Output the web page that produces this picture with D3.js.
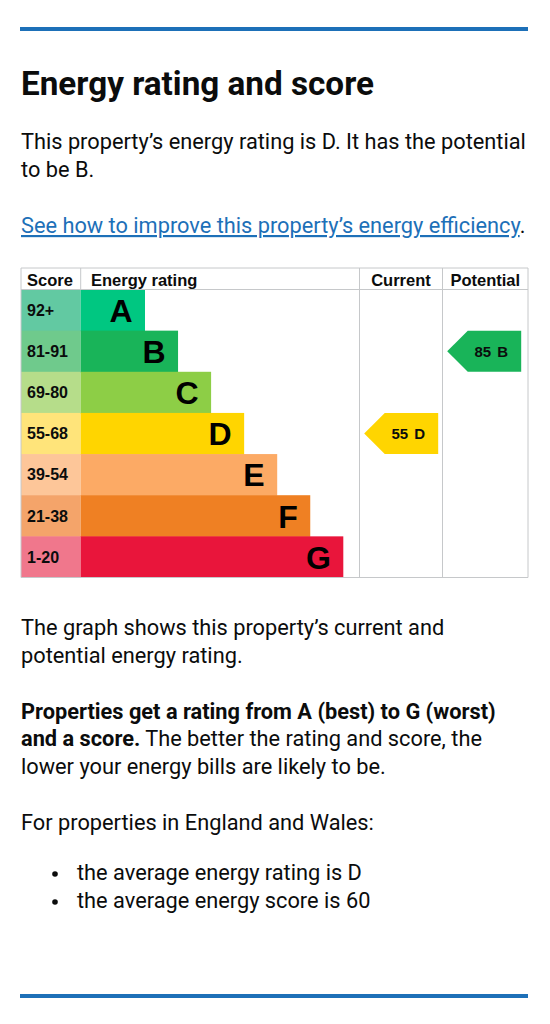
<!DOCTYPE html>
<html>
<head>
<meta charset="utf-8">
<script src="https://cdn.jsdelivr.net/npm/d3@7"></script>
<style>
  html, body { margin: 0; padding: 0; background: #fff; }
  svg { display: block; }
</style>
</head>
<body>
<svg id="chart" width="550" height="1024"></svg>
<script>
// ---------- data ----------
const bands = ["A", "B", "C", "D", "E", "F", "G"];
const scoreRanges = ["92+", "81-91", "69-80", "55-68", "39-54", "21-38", "1-20"];
const bandMinScores = [92, 81, 69, 55, 39, 21, 1];
const columnHeaders = ["Score", "Energy rating", "Current", "Potential"];
const ratingSeries = ["Current", "Potential"];
const ratingScores = [55, 85];

// ---------- styles ----------
const bandColors = ["#00c781", "#19b459", "#8dce46", "#ffd500", "#fcaa65", "#ef8023", "#e9153b"];
const scoreCellColors = ["#62c9a2", "#6fca8c", "#b6dd8a", "#ffe47a", "#fdc699", "#f4a46a", "#f0778c"];
const ink = "#0b0c0c", blue = "#1d70b8", grid = "#c6c8ca";
const bodyFont = "Roboto, 'Noto Sans', sans-serif";
const chartFont = "'Liberation Sans', Arial, sans-serif";

const svg = d3.select("#chart");

function fitSize(text, weight, family, target) {
  const t = svg.append("text").attr("font-family", family).attr("font-weight", weight)
    .attr("font-size", 100).text(text);
  const w = t.node().getComputedTextLength();
  t.remove();
  return 100 * target / w;
}

const titleSize = fitSize("Energy rating and score", 700, bodyFont, 353);
const bodySize = fitSize("This property\u2019s energy rating is D. It has the potential", 400, bodyFont, 505);

// rules
svg.append("rect").attr("x", 20).attr("y", 27).attr("width", 508).attr("height", 4).attr("fill", blue);
svg.append("rect").attr("x", 20).attr("y", 994).attr("width", 508).attr("height", 4).attr("fill", blue);

// title
svg.append("text").attr("x", 21).attr("y", 95).attr("font-family", bodyFont).attr("font-weight", 700)
  .attr("font-size", titleSize).attr("fill", ink).text("Energy rating and score");

function para(y, parts) {
  const t = svg.append("text").attr("x", 21).attr("y", y).attr("font-family", bodyFont)
    .attr("font-size", bodySize).attr("fill", ink);
  parts.forEach(p => {
    const s = t.append("tspan").text(p.text);
    if (p.bold) s.attr("font-weight", 700);
    if (p.link) s.attr("fill", blue).style("text-decoration", "underline");
  });
  return t;
}

para(149, [{text: "This property\u2019s energy rating is D. It has the potential"}]);
para(177, [{text: "to be B."}]);
para(233, [{text: "See how to improve this property\u2019s energy efficiency", link: true}, {text: "."}]);

// ---------- chart ----------
const tableLeft = 21, tableRight = 528, tableTop = 268, headerBottom = 289.5, tableBottom = 577.5;
const colEdges = [21, 80.7, 359.5, 442.5, 528];

const y = d3.scaleBand().domain(bands).range([headerBottom, tableBottom]);
const barLen = d3.scaleLinear().domain([0, bands.length - 1]).range([64.3, 262.6]);
const scoreToBand = s => bands[bandMinScores.findIndex(m => s >= m)];

const g = svg.append("g");

// score cells
g.selectAll("rect.score").data(bands).join("rect")
  .attr("x", colEdges[0]).attr("y", d => y(d))
  .attr("width", colEdges[1] - colEdges[0]).attr("height", y.bandwidth() + 0.5)
  .attr("fill", (d, i) => scoreCellColors[i]);

// bars
g.selectAll("rect.bar").data(bands).join("rect")
  .attr("x", colEdges[1]).attr("y", d => y(d))
  .attr("width", (d, i) => barLen(i)).attr("height", y.bandwidth() + 0.5)
  .attr("fill", (d, i) => bandColors[i]);

// score labels
g.selectAll("text.range").data(scoreRanges).join("text")
  .attr("x", 27).attr("y", (d, i) => y(bands[i]) + y.bandwidth() / 2 + 5.8)
  .attr("font-family", chartFont).attr("font-weight", 700).attr("font-size", 16)
  .attr("fill", ink).text(d => d);

// band letters
g.selectAll("text.letter").data(bands).join("text")
  .attr("x", (d, i) => colEdges[1] + barLen(i) - 12.5)
  .attr("y", d => y(d) + y.bandwidth() / 2 + 11.8)
  .attr("text-anchor", "end")
  .attr("font-family", chartFont).attr("font-weight", 700).attr("font-size", 32)
  .attr("fill", "#000").text(d => d);

// grid lines
const lines = [
  [tableLeft, tableTop, tableRight, tableTop],
  [tableLeft, headerBottom, tableRight, headerBottom],
  [tableLeft, tableBottom, tableRight, tableBottom],
  [tableLeft, tableTop, tableLeft, tableBottom],
  [tableRight, tableTop, tableRight, tableBottom],
  [colEdges[1], tableTop, colEdges[1], headerBottom],
  [colEdges[2], tableTop, colEdges[2], tableBottom],
  [colEdges[3], tableTop, colEdges[3], tableBottom]
];
g.selectAll("line.grid").data(lines).join("line")
  .attr("x1", d => d[0]).attr("y1", d => d[1]).attr("x2", d => d[2]).attr("y2", d => d[3])
  .attr("stroke", grid).attr("stroke-width", 1);

// headers
const headerX = [27, 91, (colEdges[2] + colEdges[3]) / 2, (colEdges[3] + colEdges[4]) / 2];
g.selectAll("text.header").data(columnHeaders).join("text")
  .attr("x", (d, i) => headerX[i]).attr("y", 285.5)
  .attr("text-anchor", (d, i) => i >= 2 ? "middle" : "start")
  .attr("font-family", chartFont).attr("font-weight", 700).attr("font-size", 16.5)
  .attr("fill", ink).text(d => d);

// arrows
const arrowW = 74;
ratingSeries.forEach((name, i) => {
  const score = ratingScores[i];
  const band = scoreToBand(score);
  const bi = bands.indexOf(band);
  const x0 = colEdges[2 + i] + 4.7;
  const y0 = y(band), h = y.bandwidth(), tip = h / 2;
  const pts = [[x0, y0 + h / 2], [x0 + tip, y0], [x0 + arrowW, y0], [x0 + arrowW, y0 + h], [x0 + tip, y0 + h]];
  g.append("path").attr("d", d3.line()(pts) + "Z").attr("fill", bandColors[bi]);
  g.append("text").attr("x", x0 + arrowW - 13).attr("y", y0 + h / 2 + 5.5)
    .attr("text-anchor", "end").attr("font-family", chartFont).attr("font-weight", 700)
    .attr("font-size", 15).attr("fill", ink).attr("word-spacing", 2)
    .text(score + " " + band);
});

// ---------- lower text ----------
para(635, [{text: "The graph shows this property\u2019s current and"}]);
para(663, [{text: "potential energy rating."}]);
para(719, [{text: "Properties get a rating from A (best) to G (worst)", bold: true}]);
para(746, [{text: "and a score.", bold: true}, {text: " The better the rating and score, the"}]);
para(774, [{text: "lower your energy bills are likely to be."}]);
para(830, [{text: "For properties in England and Wales:"}]);

const bullets = ["the average energy rating is D", "the average energy score is 60"];
bullets.forEach((b, i) => {
  const by = 880 + i * 28;
  svg.append("circle").attr("cx", 55).attr("cy", by - 6).attr("r", 2.8).attr("fill", ink);
  svg.append("text").attr("x", 77).attr("y", by).attr("font-family", bodyFont)
    .attr("font-size", bodySize).attr("fill", ink).text(b);
});
</script>
</body>
</html>
